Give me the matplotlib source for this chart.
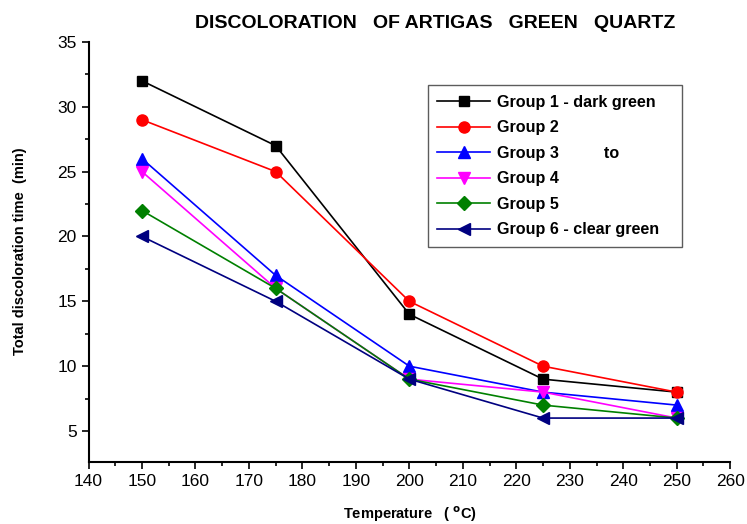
import matplotlib.pyplot as plt
from matplotlib.ticker import MultipleLocator

plt.rcParams['font.family'] = ['Liberation Sans', 'DejaVu Sans']

# Data
temperature = [150, 175, 200, 225, 250]
group1 = [32, 27, 14, 9, 8]
group2 = [29, 25, 15, 10, 8]
group3 = [26, 17, 10, 8, 7]
group4 = [25, 16, 9, 8, 6]
group5 = [22, 16, 9, 7, 6]
group6 = [20, 15, 9, 6, 6]

labels = ['Group 1 - dark green', 'Group 2', 'Group 3          to',
          'Group 4', 'Group 5', 'Group 6 - clear green   ']
series = [group1, group2, group3, group4, group5, group6]
colors = ['black', 'red', 'blue', 'magenta', 'green', 'navy']
markers = ['s', 'o', '^', 'v', 'D', '<']
sizes = [7, 8, 8, 8, 7, 8]

fig = plt.figure(figsize=(7.47, 5.24), dpi=100)
ax = fig.add_axes([0.1185, 0.118, 0.859, 0.802])

for vals, lab, c, m, s in zip(series, labels, colors, markers, sizes):
    ax.plot(temperature, vals, color=c, marker=m, markersize=s,
            linewidth=1.2, label=lab)

ax.set_xlim(140, 260)
ax.set_ylim(2.6, 35)
ax.xaxis.set_major_locator(MultipleLocator(10))
ax.xaxis.set_minor_locator(MultipleLocator(5))
ax.yaxis.set_major_locator(MultipleLocator(5))
ax.yaxis.set_minor_locator(MultipleLocator(2.5))
ax.spines['top'].set_visible(False)
ax.spines['right'].set_visible(False)
ax.spines['left'].set_linewidth(1.5)
ax.spines['bottom'].set_linewidth(1.5)
ax.tick_params(which='major', length=5, width=1.2, labelsize=12.5)
ax.tick_params(which='minor', length=3, width=1.2)

fig.text(0.583, 0.955, 'DISCOLORATION   OF ARTIGAS   GREEN   QUARTZ',
         ha='center', va='center', fontsize=14, fontweight='bold')
fig.text(0.027, 0.52, 'Total discoloration time  (min)', rotation=90,
         ha='center', va='center', fontsize=10.5, fontweight='bold')
fig.text(0.549, 0.018, 'Temperature   ( $\\mathbf{^{o}}$C)',
         ha='center', va='center', fontsize=10.5, fontweight='bold')

leg = ax.legend(loc='upper left', bbox_to_anchor=(0.5285, 0.897),
                borderaxespad=0, frameon=True, fancybox=False,
                edgecolor='#333333', prop={'weight': 'bold', 'size': 11.6},
                handlelength=3.3, labelspacing=0.65, borderpad=0.6,
                handletextpad=0.4)
leg.get_frame().set_linewidth(1.0)

fig.savefig('out.png', dpi=100)
